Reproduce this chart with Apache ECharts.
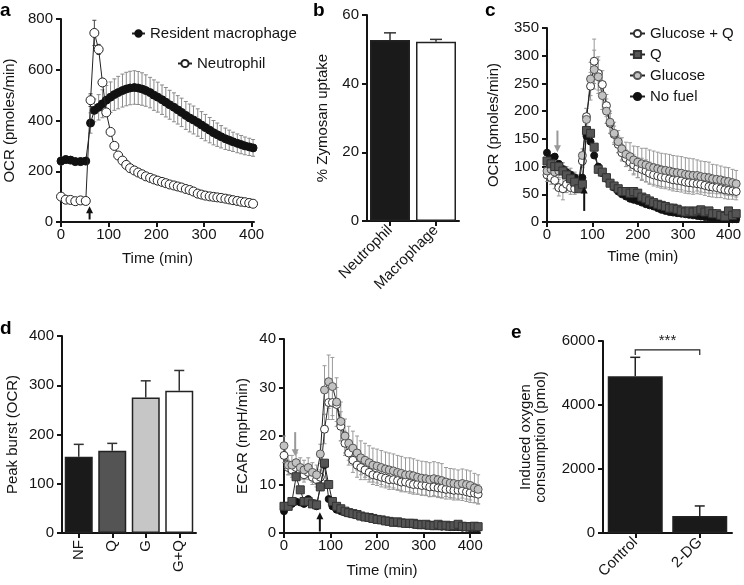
<!DOCTYPE html>
<html><head><meta charset="utf-8">
<script src="https://cdn.jsdelivr.net/npm/echarts@6/dist/echarts.min.js"></script>
<style>html,body{margin:0;padding:0;background:#fff}#c{width:744px;height:585px}</style>
</head><body><div id="c"></div>
<script>
// ---------- DATA ----------
// Panel a
const timeA = [0,10,20,30,41,52,62,70,79,87,95,104,112,120,129,137,145,154,162,170,178,187,195,203,212,220,228,237,245,253,262,270,278,287,295,303,312,320,328,336,345,353,361,370,378,386,395,403];
const macro = [240,246,244,238,238,240,
  390,440,452,466,480,492,502,510,518,524,528,530,528,524,518,510,500,492,482,472,
  462,452,442,432,420,410,402,392,382,372,362,352,344,336,328,322,316,310,305,300,296,292];
const macroErr = [15,15,14,14,15,14,
  40,45,50,55,58,60,62,64,65,66,66,66,65,64,62,60,60,59,58,58,
  57,57,56,56,55,55,55,54,53,52,50,48,46,44,42,40,38,37,36,35,34,33];
const neutro = [100,88,87,82,85,83,
  480,745,680,550,432,355,300,262,242,225,212,203,195,188,180,174,168,163,158,153,
  148,144,140,136,130,126,120,112,108,104,101,99,97,95,92,89,86,83,80,78,75,72];
const neutroErr = [6,5,5,5,5,5,
  25,50,20,15,12,10,10,8,8,8,8,7,7,7,7,7,6,6,6,6,
  6,6,6,6,5,5,5,5,5,5,5,5,5,5,5,5,5,5,5,5,5,5];
const timeTicks = [0,100,200,300,400];

// Panel b
const bCats = ['Neutrophil','Macrophage'];
const bVals = [52.7, 52.2];
const bErr = [2.1, 0.7];

// Panel c (OCR) and d-right (ECAR) share time points
const timeC = [0,9,17,26,35,43,52,61,70,78,87,96,104,113,122,131,139,148,157,165,174,183,191,200,209,218,226,235,244,252,261,270,278,287,296,305,313,322,331,339,348,357,365,374,383,392,400,409,417];
const ocrGQ = [85,80,75,62,60,68,62,60,65,110, 190,245,290,268,248,210,178,158,140,125,
  115,108,103,98,95,92,88,85,83,81, 80,78,76,75,74,72,71,70,69,68, 66,64,63,62,60,58,57,56,55];
const ocrGQErr = [12,12,15,15,20,15,12,10,10,12, 15,25,40,30,25,20,18,15,15,15,
  15,15,18,18,20,20,20,20,20,20, 20,20,20,20,20,20,20,20,18,18, 18,18,18,18,16,16,16,15,15];
const ocrG = [92,95,90,92,95,88,85,80,75,120, 185,258,275,262,228,200,180,160,145,132,
  122,118,112,108,105,103,100,98,96,94, 93,92,90,89,88,86,85,84,84,82, 81,80,78,77,76,74,73,71,69];
const ocrGErr = [12,12,12,12,12,12,12,10,10,12, 20,30,35,30,25,22,20,20,20,20,
  22,25,25,28,28,30,30,30,30,30, 30,30,30,30,30,30,30,30,28,28, 28,28,26,26,25,25,25,24,24];
const ocrQ = [110,105,100,100,92,85,78,72,60,68, 165,160,135,95,90,80,70,65,60,55,
  55,52,55,52,45,42,38,35,32,30, 28,25,25,23,20,18,20,18,20,22, 18,20,15,15,12,10,20,12,15];
const ocrNF = [125,115,118,105,95,90,85,80,70,80, 155,145,120,100,88,78,70,62,55,50,
  46,42,40,38,35,32,30,28,25,22, 20,18,17,16,15,14,13,12,11,10, 9,8,7,7,6,6,5,5,5];

// Panel d-left
const dCats = ['NF','Q','G','G+Q'];
const dVals = [155, 167, 275, 289];
const dErr = [25, 15, 34, 41];

// Panel d-right ECAR
const ecarG = [18,14,14,14.5,13.5,13,13.5,12.5,12,16.3, 29.5,31.2,30.2,27,23,20,18.5,17.5,16.5,15.5,
  15,14.5,14,13.8,13.5,13.2,13,12.8,12.5,12.3, 12,12,11.8,11.5,11.3,11.2,11,11.2,11,10.8, 10.5,10.3,10.2,10,10.2,10,9.8,9.3,9];
const ecarGErr = [2,2,2,2,2,2,2,2,2,2, 5,5.5,6,5,4,3.5,3.5,3.5,3.5,3.5,
  3.5,3.5,3.5,3.5,3.5,3.5,3.5,3.5,3.5,3.5, 3.5,3.5,3.5,3.5,3.5,3.5,3.5,3.5,3.5,3.5, 3,3,3,3,3,3,3,3,3];
const ecarGQ = [16,13.5,13,13.5,12.5,12,12.5,11.5,11,11.5, 21.4,26.9,26.9,26.5,22,18.5,16.5,15,14,13.5,
  13,12.5,12,11.8,11.5,11.3,11,11,10.8,10.5, 10.5,10.2,10,10,9.8,9.8,9.5,9.5,9.3,9.2, 9,9,8.8,8.8,8.7,8.5,8.3,8.2,8];
const ecarGQErr = [1.5,1.5,1.5,1.5,1.5,1.5,1.5,1.5,1.5,1.5, 3,3.5,3.5,3.5,3,2.5,2.5,2.5,2.5,2.5,
  2,2,2,2,2,2,2,2,2,2, 2,2,2,2,2,2,2,2,2,2, 2,2,2,2,2,2,2,2,2];
const ecarQ = [5.5,5.5,6.5,11.6,8.9,6.5,6.5,6,5.8,9.5, 14.4,10,6.5,5.5,5,4.5,4.2,4,3.8,3.5,
  3.3,3.2,3,2.8,2.7,2.5,2.4,2.2,2.3,2.1, 2,2,2,1.8,1.7,1.8,1.6,1.5,1.8,1.5, 1.6,1.4,1.5,1.8,1.4,1.3,1.3,1.4,1.3];
const ecarNF = [4.5,5.5,6,6.5,6.3,6,7,6.2,5.5,9.5, 14,7,5.5,4.8,4.5,4.2,4,3.8,3.6,3.4,
  3.2,3,2.9,2.8,2.6,2.5,2.3,2.2,2.1,2, 1.9,1.8,1.7,1.6,1.6,1.5,1.5,1.4,1.4,1.3, 1.3,1.2,1.2,1.2,1.1,1.1,1,1,1];

// Panel e
const eCats = ['Control','2-DG'];
const eVals = [4900, 530];
const eErr = [590, 315];

// ---------- STYLE ----------
const FONT = '"Liberation Sans", Arial, Helvetica, sans-serif';
const FS = 15;
const INK = '#141414';
const bColorsB = ['#1a1a1a', '#ffffff'];
const bColorsD = ['#1a1a1a', '#545454', '#c6c6c6', '#ffffff'];
const bColorsE = ['#1a1a1a', '#1a1a1a'];

const chart = echarts.init(document.getElementById('c'), null, {renderer: 'canvas'});

const grids = [
  {left: 61, top: 19, width: 193, height: 203},   // a
  {left: 367, top: 15, width: 92, height: 206},   // b
  {left: 547, top: 28, width: 194, height: 194},  // c
  {left: 62, top: 336, width: 134, height: 197},  // d-left
  {left: 284, top: 339, width: 196, height: 194}, // d-right
  {left: 603, top: 341, width: 129, height: 192}  // e
];

const axLine = {show: true, onZero: false, lineStyle: {color: INK, width: 2}};
const axTick = {show: true, inside: false, length: 5, lineStyle: {color: INK, width: 2}};
const lab = {color: INK, fontSize: FS, fontFamily: FONT};
const nameStyle = {color: INK, fontSize: FS, fontFamily: FONT};
const plain = v => String(v);

function yAx(g, max, interval, name, gap) {
  return {type: 'value', gridIndex: g, min: 0, max: max, interval: interval,
    axisLine: axLine, axisTick: axTick, splitLine: {show: false},
    axisLabel: Object.assign({margin: 8, formatter: plain}, lab),
    name: name, nameLocation: 'middle', nameGap: gap, nameTextStyle: nameStyle};
}
function xTime(g, max, gap) {
  return {type: 'value', gridIndex: g, min: 0, max: max, interval: 100,
    axisLine: axLine, axisTick: Object.assign({customValues: timeTicks}, axTick), splitLine: {show: false},
    axisLabel: Object.assign({margin: 5, customValues: timeTicks, formatter: plain}, lab),
    name: 'Time (min)', nameLocation: 'middle', nameGap: gap, nameTextStyle: nameStyle};
}
function xCat(g, cats, rotate) {
  return {type: 'category', gridIndex: g, data: cats,
    axisLine: axLine, axisTick: Object.assign({alignWithLabel: true}, axTick),
    axisLabel: Object.assign({margin: 7, rotate: rotate, interval: 0}, lab)};
}

function errSeries(g, xs, vals, errs, color, capW, z) {
  return {type: 'custom', xAxisIndex: g, yAxisIndex: g, z: z, silent: true,
    data: xs.map((t, i) => [t, vals[i], errs[i]]),
    renderItem: function (params, api) {
      const x = api.value(0), y = api.value(1), e = api.value(2);
      const p1 = api.coord([x, y + e]), p2 = api.coord([x, y - e]);
      const st = {stroke: color, lineWidth: 1};
      return {type: 'group', children: [
        {type: 'line', shape: {x1: p1[0], y1: p1[1], x2: p2[0], y2: p2[1]}, style: st},
        {type: 'line', shape: {x1: p1[0] - capW, y1: p1[1], x2: p1[0] + capW, y2: p1[1]}, style: st},
        {type: 'line', shape: {x1: p2[0] - capW, y1: p2[1], x2: p2[0] + capW, y2: p2[1]}, style: st}
      ]};
    }};
}
function barErrSeries(g, vals, errs, color, capW) {
  return {type: 'custom', xAxisIndex: g, yAxisIndex: g, z: 1, silent: true,
    data: vals.map((v, i) => [i, v, errs[i]]),
    renderItem: function (params, api) {
      const x = api.value(0), y = api.value(1), e = api.value(2);
      const p1 = api.coord([x, y + e]), p2 = api.coord([x, y]);
      const st = {stroke: color, lineWidth: 1.5};
      return {type: 'group', children: [
        {type: 'line', shape: {x1: p1[0], y1: p1[1], x2: p2[0], y2: p2[1]}, style: st},
        {type: 'line', shape: {x1: p1[0] - capW, y1: p1[1], x2: p1[0] + capW, y2: p1[1]}, style: st}
      ]};
    }};
}
function lineSeries(g, name, xs, vals, symbol, size, fill, border, z) {
  return {type: 'line', name: name, xAxisIndex: g, yAxisIndex: g, z: z,
    data: xs.map((t, i) => [t, vals[i]]),
    symbol: symbol, symbolSize: size, showSymbol: true, showAllSymbol: true,
    lineStyle: {color: '#222', width: 1},
    itemStyle: {color: fill, borderColor: border, borderWidth: 1, opacity: 1},
    emphasis: {disabled: true}, animation: false};
}
function barSeries(g, vals, colors, width) {
  return {type: 'bar', xAxisIndex: g, yAxisIndex: g, z: 2, barWidth: width,
    data: vals.map((v, i) => ({value: v, itemStyle: {color: colors[i]}})),
    itemStyle: {borderColor: '#222', borderWidth: 1.5}, emphasis: {disabled: true}};
}
// injection arrow annotation (tail value -> head value at a given time)
function arrowSeries(g, x, yTail, yHead, color) {
  return {type: 'custom', xAxisIndex: g, yAxisIndex: g, z: 10, silent: true,
    data: [[x, yTail, yHead]],
    renderItem: function (params, api) {
      const t = api.coord([api.value(0), api.value(1)]);
      const h = api.coord([api.value(0), api.value(2)]);
      const dir = h[1] < t[1] ? -1 : 1; // -1: pointing up
      const hl = 7, hw = 3.5;
      return {type: 'group', children: [
        {type: 'line', shape: {x1: t[0], y1: t[1], x2: h[0], y2: h[1] - dir * hl * 0.7}, style: {stroke: color, lineWidth: 2}},
        {type: 'polygon', shape: {points: [[h[0], h[1]], [h[0] - hw, h[1] - dir * hl], [h[0] + hw, h[1] - dir * hl]]}, style: {fill: color}}
      ]};
    }};
}

const option = {
  animation: false,
  textStyle: {fontFamily: FONT},
  grid: grids,
  xAxis: [
    xTime(0, 405, 29),
    xCat(1, bCats, 45),
    xTime(2, 422, 27),
    xCat(3, dCats, 90),
    xTime(4, 421, 30),
    xCat(5, eCats, 45)
  ],
  yAxis: [
    yAx(0, 800, 200, 'OCR (pmoles/min)', 44),
    yAx(1, 60, 20, '% Zymosan uptake', 37),
    yAx(2, 350, 50, 'OCR (pmoles/min)', 46),
    yAx(3, 400, 100, 'Peak burst (OCR)', 42),
    yAx(4, 40, 10, 'ECAR (mpH/min)', 34),
    yAx(5, 6000, 2000, 'Induced oxygen\nconsumption (pmol)', 55)
  ],
  legend: [
    {data: ['Resident macrophage'], left: 126, top: 21, itemWidth: 13, itemHeight: 8,
      textStyle: {fontSize: FS, color: INK, fontFamily: FONT}, selectedMode: false},
    {data: ['Neutrophil'], left: 172, top: 51, itemWidth: 14, itemHeight: 9,
      textStyle: {fontSize: FS, color: INK, fontFamily: FONT}, selectedMode: false},
    {data: ['Glucose + Q', 'Q', 'Glucose', 'No fuel'], orient: 'vertical', left: 624, top: 21,
      itemWidth: 15, itemHeight: 9, itemGap: 6,
      textStyle: {fontSize: FS, color: INK, fontFamily: FONT}, selectedMode: false}
  ],
  graphic: [
    {type: 'text', left: 0, top: 1, style: {text: 'a', fontSize: 19, fontWeight: 'bold', fontFamily: FONT, fill: '#000'}},
    {type: 'text', left: 313, top: 1, style: {text: 'b', fontSize: 19, fontWeight: 'bold', fontFamily: FONT, fill: '#000'}},
    {type: 'text', left: 485, top: 1, style: {text: 'c', fontSize: 19, fontWeight: 'bold', fontFamily: FONT, fill: '#000'}},
    {type: 'text', left: 0, top: 319, style: {text: 'd', fontSize: 19, fontWeight: 'bold', fontFamily: FONT, fill: '#000'}},
    {type: 'text', left: 511, top: 323, style: {text: 'e', fontSize: 19, fontWeight: 'bold', fontFamily: FONT, fill: '#000'}}
  ],
  series: [
    // a
    errSeries(0, timeA, macro, macroErr, '#8a8a8a', 2, 1),
    errSeries(0, timeA, neutro, neutroErr, '#444', 2, 1),
    lineSeries(0, 'Resident macrophage', timeA, macro, 'circle', 8, '#111', '#111', 3),
    lineSeries(0, 'Neutrophil', timeA, neutro, 'circle', 9, '#fff', '#222', 4),
    arrowSeries(0, 60, 10, 62, '#111'),
    // b
    barSeries(1, bVals, bColorsB, 40),
    barErrSeries(1, bVals, bErr, '#333', 6),
    // c
    errSeries(2, timeC, ocrGQ, ocrGQErr, '#9a9a9a', 2, 1),
    errSeries(2, timeC, ocrG, ocrGErr, '#9a9a9a', 2, 1),
    lineSeries(2, 'Glucose + Q', timeC, ocrGQ, 'circle', 8, '#fff', '#333', 3),
    lineSeries(2, 'No fuel', timeC, ocrNF, 'circle', 7, '#111', '#111', 4),
    lineSeries(2, 'Q', timeC, ocrQ, 'rect', 8, '#555', '#333', 4),
    lineSeries(2, 'Glucose', timeC, ocrG, 'circle', 8, '#c2c2c2', '#555', 3),
    arrowSeries(2, 23, 165, 126, '#999'),
    arrowSeries(2, 82, 20, 64, '#111'),
    // d-left
    barSeries(3, dVals, bColorsD, 28),
    barErrSeries(3, dVals, dErr, '#333', 5),
    // d-right
    errSeries(4, timeC, ecarGQ, ecarGQErr, '#9a9a9a', 2, 1),
    errSeries(4, timeC, ecarG, ecarGErr, '#9a9a9a', 2, 1),
    lineSeries(4, 'ECAR G+Q', timeC, ecarGQ, 'circle', 8, '#fff', '#333', 3),
    lineSeries(4, 'ECAR Glucose', timeC, ecarG, 'circle', 8, '#c2c2c2', '#555', 3),
    lineSeries(4, 'ECAR NF', timeC, ecarNF, 'circle', 7, '#111', '#111', 4),
    lineSeries(4, 'ECAR Q', timeC, ecarQ, 'rect', 8, '#555', '#333', 4),
    arrowSeries(4, 24, 20.8, 15.8, '#999'),
    arrowSeries(4, 77, 0.3, 4.3, '#111'),
    // e
    barSeries(5, eVals, bColorsE, 55),
    barErrSeries(5, eVals, eErr, '#222', 5),
    {type: 'custom', xAxisIndex: 5, yAxisIndex: 5, z: 5, silent: true, data: [[0, 1]],
      renderItem: function (params, api) {
        const a = api.coord([0, 5720]), b = api.coord([1, 5720]);
        const drop = 5;
        const st = {stroke: '#222', lineWidth: 1.2, fill: null};
        return {type: 'group', children: [
          {type: 'polyline', shape: {points: [[a[0], a[1] + drop], [a[0], a[1]], [b[0], a[1]], [b[0], a[1] + drop]]}, style: st},
          {type: 'text', style: {text: '***', x: (a[0] + b[0]) / 2, y: a[1] - 2, align: 'center', verticalAlign: 'bottom',
            fontSize: 15, fontFamily: FONT, fill: '#222'}}
        ]};
      }}
  ]
};
chart.setOption(option);
</script></body></html>
